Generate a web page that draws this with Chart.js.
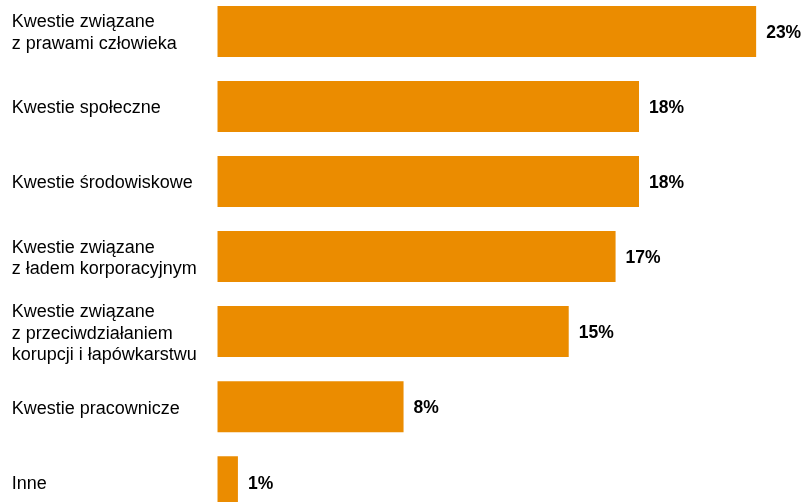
<!DOCTYPE html>
<html>
<head>
<meta charset="utf-8">
<script src="https://cdn.jsdelivr.net/npm/chart.js@4/dist/chart.umd.min.js"></script>
<style>
  html, body { margin: 0; padding: 0; background: #fff; overflow: hidden; width: 807px; height: 502px; }
  #c { position: absolute; left: 0; top: -17px; width: 807px; height: 558px; }
</style>
</head>
<body>
<canvas id="c" width="807" height="558"></canvas>
<script>
const categories = [
  ["Kwestie związane", "z prawami człowieka"],
  "Kwestie społeczne",
  "Kwestie środowiskowe",
  ["Kwestie związane", "z ładem korporacyjnym"],
  ["Kwestie związane", "z przeciwdziałaniem", "korupcji i łapówkarstwu"],
  "Kwestie pracownicze",
  "Inne"
];
const values = [23, 18, 18, 17, 15, 7.95, 0.88];
const valueLabels = ["23%", "18%", "18%", "17%", "15%", "8%", "1%"];

const barColor = "#EB8C00";

const valueLabelPlugin = {
  id: 'valueLabels',
  afterDatasetsDraw(chart) {
    const ctx = chart.ctx;
    const meta = chart.getDatasetMeta(0);
    ctx.save();
    ctx.font = "bold 17.5px 'Liberation Sans', Arial, sans-serif";
    ctx.fillStyle = "#000";
    ctx.textAlign = "left";
    ctx.textBaseline = "middle";
    meta.data.forEach((el, i) => {
      ctx.fillText(valueLabels[i], el.x + 10, el.y + 2);
    });
    ctx.restore();
  }
};

new Chart(document.getElementById('c'), {
  type: 'bar',
  data: {
    labels: categories,
    datasets: [{
      data: values,
      backgroundColor: barColor,
      borderWidth: 0,
      barPercentage: 0.68,
      categoryPercentage: 1.0
    }]
  },
  options: {
    indexAxis: 'y',
    responsive: false,
    maintainAspectRatio: false,
    devicePixelRatio: 1,
    animation: false,
    layout: { padding: { left: 11.7, right: 4, top: 0, bottom: 0 } },
    plugins: { legend: { display: false }, tooltip: { enabled: false } },
    scales: {
      x: { display: false, min: 0, max: 25 },
      y: {
        grid: { display: false, drawTicks: false },
        border: { display: false },
        ticks: {
          crossAlign: 'far',
          color: '#000',
          padding: 0,
          labelOffset: 2,
          font: { family: "'Liberation Sans', Arial, sans-serif", size: 18, lineHeight: 1.21 }
        },
        afterFit(scale) { scale.width = 205.6; }
      }
    }
  },
  plugins: [valueLabelPlugin]
});
</script>
</body>
</html>
